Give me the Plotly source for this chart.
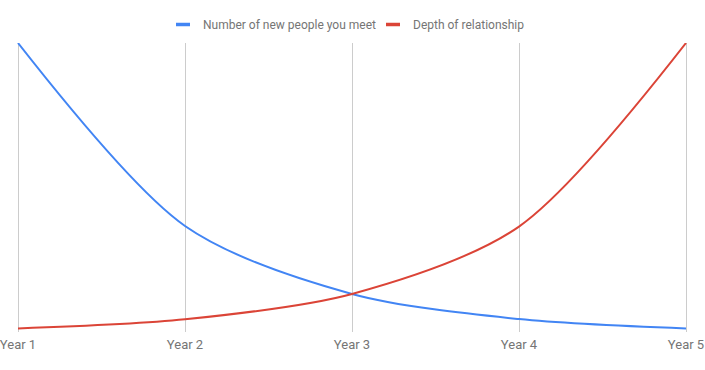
import plotly.graph_objects as go

categories = ["Year 1", "Year 2", "Year 3", "Year 4", "Year 5"]
new_people = [100, 35.9, 12.1, 3.3, 0]
depth = [0, 3.2, 12.1, 35.7, 100]
series_names = ["Number of new people you meet", "Depth of relationship"]
colors = ["#4285F4", "#DB4437"]

x_idx = list(range(len(categories)))
pad = 2 * 4 / 668

fig = go.Figure()
for name, vals, col in zip(series_names, [new_people, depth], colors):
    fig.add_trace(go.Scatter(
        x=x_idx, y=vals, mode="lines", name=name,
        line=dict(color=col, width=2, shape="spline", smoothing=0.85),
        showlegend=False, hoverinfo="skip"))
legend_ids = ["legend", "legend2"]
for name, col, lid in zip(series_names, colors, legend_ids):
    fig.add_trace(go.Scatter(
        x=[None], y=[None], mode="markers", name=name, legend=lid,
        marker=dict(symbol="line-ew", size=10, color=col,
                    line=dict(color=col, width=3.5)),
        showlegend=True))

leg_common = dict(orientation="h", xanchor="left", xref="container",
                  yref="container", y=1 - 24.5 / 370, yanchor="middle",
                  font=dict(family="Roboto", size=12, color="#757575"),
                  itemwidth=30, bgcolor="rgba(0,0,0,0)")

fig.update_layout(
    width=705, height=370,
    margin=dict(l=16, r=17, t=43, b=38, autoexpand=False),
    paper_bgcolor="white", plot_bgcolor="white",
    font=dict(family="Roboto", size=13, color="#757575"),
    showlegend=True,
    legend=dict(x=163 / 705, **leg_common),
    legend2=dict(x=373 / 705, **leg_common),
    xaxis=dict(range=[-pad, 4 + pad], tickvals=x_idx, ticktext=categories,
               showgrid=True, gridcolor="#cccccc", gridwidth=1,
               zeroline=False, showline=False, ticks="", automargin=False,
               ticklabeloverflow="allow", ticklabelstandoff=3,
               tickfont=dict(family="Roboto", size=13, color="#757575")),
    yaxis=dict(range=[-1.23, 100], visible=False, showgrid=False,
               zeroline=False, automargin=False),
)

fig.write_html("out.html")
